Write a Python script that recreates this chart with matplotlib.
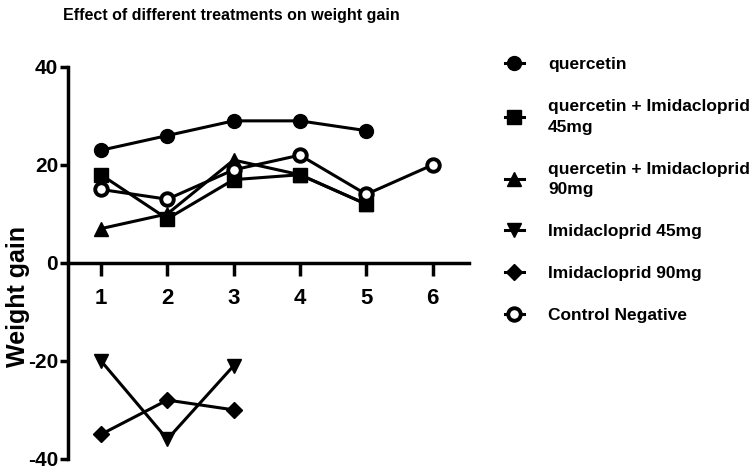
import matplotlib
matplotlib.use("agg")
import matplotlib.pyplot as plt

plt.rcParams['font.family'] = ['Liberation Sans', 'DejaVu Sans']
plt.rcParams['font.weight'] = 'bold'
plt.rcParams['axes.unicode_minus'] = False

days = [1, 2, 3, 4, 5, 6]

quercetin = [23, 26, 29, 29, 27]
querc_imi45 = [18, 9, 17, 18, 12]
querc_imi90 = [7, 10, 21, 18, 12]
imi45 = [-20, -36, -21]
imi90 = [-35, -28, -30]
control_neg = [15, 13, 19, 22, 14, 20]

labels = ["quercetin",
          "quercetin + Imidacloprid\n45mg",
          "quercetin + Imidacloprid\n90mg",
          "Imidacloprid 45mg",
          "Imidacloprid 90mg",
          "Control Negative"]

fig = plt.figure(figsize=(7.54, 4.75), dpi=100)
ax = fig.add_axes([0.090, 0.034, 0.532, 0.825])

style = dict(color="black", lw=2.2, markersize=10)
ax.plot(days[:5], quercetin, marker="o", label=labels[0], **style)
ax.plot(days[:5], querc_imi45, marker="s", label=labels[1], **style)
ax.plot(days[:5], querc_imi90, marker="^", label=labels[2], **style)
ax.plot(days[:3], imi45, marker="v", label=labels[3], **style)
ax.plot(days[:3], imi90, marker="D", label=labels[4], color="black", lw=2.2, markersize=8)
ax.plot(days, control_neg, marker="o", mfc="white", mew=2.8, label=labels[5],
        color="black", lw=2.2, markersize=9)

ax.set_xlim(0.5, 6.55)
ax.set_ylim(-40, 40)
ax.set_yticks([-40, -20, 0, 20, 40])
ax.set_xticks(days)

for s in ["top", "right"]:
    ax.spines[s].set_visible(False)
ax.spines["bottom"].set_position(("data", 0))
ax.spines["bottom"].set_linewidth(2.5)
ax.spines["left"].set_linewidth(2.5)

ax.tick_params(axis="y", direction="out", length=6, width=2.5, labelsize=15, pad=1)
ax.tick_params(axis="x", direction="out", length=9, width=2.5, labelsize=16, pad=9)

ax.set_ylabel("Weight gain", fontsize=18, fontweight="bold")
ax.yaxis.set_label_coords(-0.094, 0.415)

fig.text(0.083, 0.967, "Effect of different treatments on weight gain",
         fontsize=11.5, fontweight="bold", ha="left", va="center")

leg = ax.legend(loc="upper left", bbox_to_anchor=(1.05, 1.065), frameon=False,
                handlelength=1.1, handletextpad=1.4, labelspacing=1.55,
                prop={'weight': 'bold', 'size': 12.5})
for t in leg.get_texts():
    t.set_linespacing(1.45)

fig.savefig("out.png", dpi=100)
